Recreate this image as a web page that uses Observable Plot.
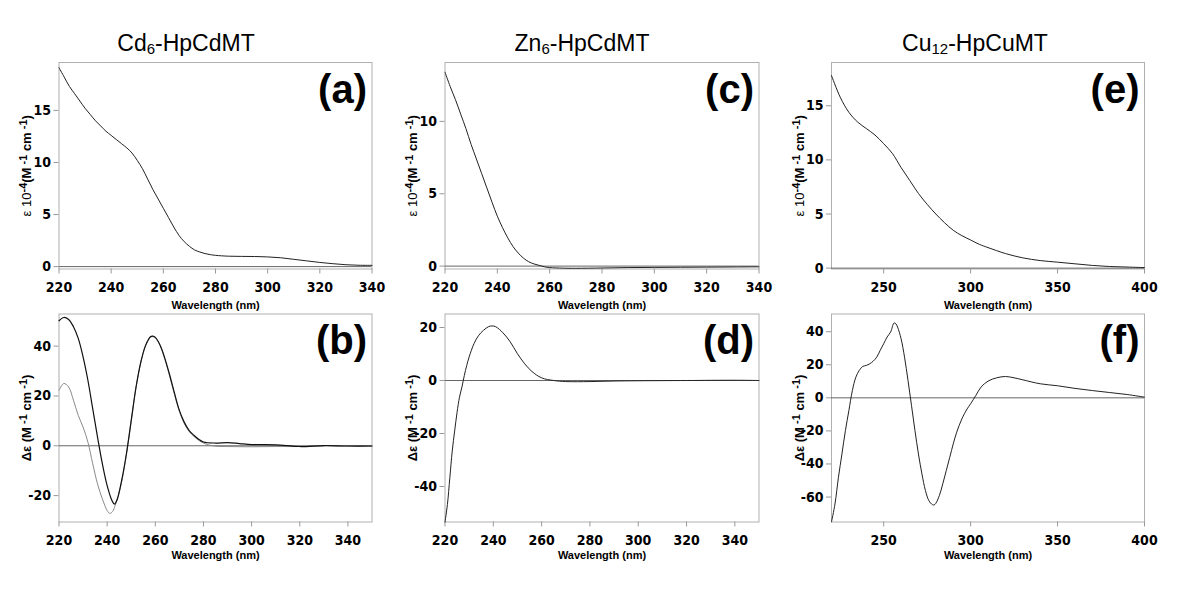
<!DOCTYPE html>
<html><head><meta charset="utf-8">
<script src="https://cdn.jsdelivr.net/npm/d3@7"></script>
<script src="https://cdn.jsdelivr.net/npm/@observablehq/plot@0.6"></script>
<style>
body{margin:0;background:#fff;}
#root{position:relative;width:1200px;height:589px;overflow:hidden;background:#fff;font-family:"Liberation Sans",Arial,Helvetica,sans-serif;}
.title{position:absolute;font-size:23px;line-height:23px;color:#000;white-space:nowrap;transform:translateX(-50%);}
.title .s{font-size:15px;position:relative;top:3px;}
.panel{position:absolute;}
</style></head><body><div id="root"></div>
<script>
// ---- data ----
const titles = ["Cd|6|-HpCdMT", "Zn|6|-HpCdMT", "Cu|12|-HpCuMT"];
const panelLetters = ["(a)", "(b)", "(c)", "(d)", "(e)", "(f)"];
const xLabel = "Wavelength (nm)";
// "^..._" marks a superscript run, "~..._" marks a regular-weight run
const yLabelAbs = "~ε 10_^-4_(M^ -1_ cm^ -1_)";
const yLabelCD = "Δε (M^ -1_ cm^ -1_)";

// (a) Cd6-HpCdMT absorption
const wlA = [220,222,224,226,228,230,232,234,236,238,240,242,244,246,248,250,252,254,256,258,260,262,264,266,268,270,272,274,276,278,280,285,290,295,300,305,310,315,320,325,330,335,340];
const epsA = [19.1,18.2,17.3,16.6,15.9,15.2,14.6,14.0,13.5,13.0,12.6,12.2,11.8,11.4,10.9,10.2,9.4,8.4,7.4,6.5,5.6,4.7,3.8,3.0,2.4,1.95,1.6,1.4,1.25,1.15,1.08,1.0,0.98,0.97,0.93,0.85,0.7,0.55,0.4,0.28,0.18,0.13,0.12];

// (b) Cd6-HpCdMT CD (two traces)
const wlB = [220,222,224,226,228,230,232,234,236,238,240,242,243,244,246,248,250,252,254,256,258,259,260,262,264,266,268,270,272,274,276,278,280,285,290,295,300,310,320,330,340,350];
const cdB1 = [50.2,51.5,50.7,47.8,43.1,35.7,26.3,14.9,3.5,-7.2,-16,-22,-23.4,-22,-14,-3.2,10.2,23.6,33.7,40.4,43.8,44,43.5,40.4,35,28.3,21,14.2,9.5,6.2,4.2,2.6,1.5,1.1,1.3,0.9,0.5,0.4,-0.3,0.1,-0.1,-0.1];
const wlB2 = [220,222,224,226,228,230,232,234,236,238,240,241,242,244,246,248,250,252,254,256,258,259,260,262,264,266,268,270,272,274,276,278,280,282,285,290,300,310,320,330,340,350];
const cdB2 = [22.3,25,23.6,18.3,12.2,7.5,1.5,-7.2,-15.3,-21.3,-26,-27.1,-26.7,-22,-14.6,-3.5,10,23.4,33.5,40.2,43.6,43.8,43.3,40.2,34.6,27.8,20.5,13.8,9,5.8,3.8,2.2,1.1,0.4,-0.2,-0.3,-0.4,-0.3,-0.3,0,-0.1,-0.1];

// (c) Zn6-HpCdMT absorption
const wlC = [220,222,224,226,228,230,232,234,236,238,240,242,244,246,248,250,252,254,256,258,260,265,270,280,290,300,310,320,330,340];
const epsC = [13.4,12.4,11.5,10.5,9.5,8.4,7.4,6.4,5.4,4.4,3.45,2.65,1.95,1.35,0.9,0.55,0.3,0.15,0.05,-0.05,-0.1,-0.14,-0.15,-0.13,-0.1,-0.09,-0.08,-0.07,-0.06,-0.05];

// (d) Zn6-HpCdMT CD
const wlD = [220,221,222,223,224,225,226,227,228,229,230,232,234,236,238,239.5,241,244,247,250,253,256,260,265,270,280,290,300,320,340,350];
const cdD = [-53.4,-46.8,-36.7,-26.6,-19,-12,-6.3,-2.5,1.9,5.7,8.9,13.9,17.1,19,20.3,20.6,20.3,18,14.6,10.1,6.3,3.4,1.0,0,-0.4,-0.4,-0.2,-0.1,0,0.1,0];

// (e) Cu12-HpCuMT absorption
const wlE = [220,225,230,235,240,245,250,255,260,265,270,275,280,285,290,295,300,305,310,320,330,340,350,360,370,380,390,400];
const epsE = [17.8,15.8,14.4,13.5,12.9,12.3,11.5,10.6,9.3,8.1,6.9,5.9,5.0,4.2,3.5,3.0,2.6,2.2,1.9,1.35,0.95,0.7,0.55,0.4,0.25,0.15,0.1,0.05];

// (f) Cu12-HpCuMT CD
const wlF = [220,222,224,226,228,230,232,234,236,238,240,242,244,246,248,250,252,254,256,257,258,260,262,264,266,268,270,272,274,276,278,279,280,282,284,286,288,290,292,295,298,300,303,306,310,315,320,325,330,340,350,360,370,380,390,400];
const cdF = [-75,-64.2,-48,-34,-19.8,-7.7,4.4,12.5,16.6,19,19.6,20.6,22.2,24.6,28.7,32.7,36.8,39.8,45.3,44.8,42.8,35.8,24.6,10.5,-4.6,-19.8,-34,-46,-56,-62.2,-64.6,-64.8,-63.8,-59.2,-52,-44,-36,-27.9,-20.8,-12.7,-6.7,-3.6,1.4,6.5,10.1,12.1,12.9,12.1,10.9,8.5,7.3,5.7,4.4,3.2,2.0,0.4];

// axis ticks
const xTicks220 = [220,240,260,280,300,320,340];
const xTicks250 = [250,300,350,400];
const yTicksA = [0,5,10,15];
const yTicksC = [0,5,10];
const yTicksE = [0,5,10,15];
const yTicksB = [-20,0,20,40];
const yTicksD = [-40,-20,0,20];
const yTicksF = [-60,-40,-20,0,20,40];

// ---- layout ----
const root = document.getElementById("root");
const tickFont = '"Liberation Sans Narrow","Arial Narrow","DejaVu Sans Condensed",sans-serif';
const labFont = '"Liberation Sans",Arial,Helvetica,sans-serif';

const titleCenters = [186, 582, 975];
titles.forEach((t, i) => {
  const [a, b, c] = t.split("|");
  const d = document.createElement("div");
  d.className = "title";
  d.style.left = titleCenters[i] + "px";
  d.style.top = "32px";
  d.innerHTML = `${a}<span class="s">${b}</span>${c}`;
  root.appendChild(d);
});

const cols = [
  {left: 0, width: 390, ml: 58.5, mr: 18.5},
  {left: 390, width: 390, ml: 54.5, mr: 21.5},
  {left: 780, width: 420, ml: 51, mr: 56}
];
const rows = [
  {top: 40, height: 275, mt: 22, mb: 46.5, xlabDy: 39.5},
  {top: 300, height: 280, mt: 13.5, mb: 58.5, xlabDy: 36.5}
];

function makeSeries(wl, vals, stroke, width) {
  return wl.map((w, i) => ({w, v: vals[i], stroke, width}));
}
const plain = s => s.replace(/[\^_~]/g, "");

const panels = [
  {col: 0, row: 0, letter: panelLetters[0], xd: [220, 340], yd: [-0.23, 19.6], xt: xTicks220, yt: yTicksA, yl: yLabelAbs,
   series: [makeSeries(wlA, epsA, "#222", 1)]},
  {col: 0, row: 1, letter: panelLetters[1], xd: [220, 350], yd: [-30.6, 52.9], xt: xTicks220, yt: yTicksB, yl: yLabelCD,
   series: [makeSeries(wlB2, cdB2, "#8a8a8a", 1), makeSeries(wlB, cdB1, "#111", 1.2)]},
  {col: 1, row: 0, letter: panelLetters[2], xd: [220, 340], yd: [-0.2, 14.07], xt: xTicks220, yt: yTicksC, yl: yLabelAbs,
   series: [makeSeries(wlC, epsC, "#222", 1)]},
  {col: 1, row: 1, letter: panelLetters[3], xd: [220, 350], yd: [-53.4, 25.1], xt: xTicks220, yt: yTicksD, yl: yLabelCD,
   series: [makeSeries(wlD, cdD, "#222", 1)]},
  {col: 2, row: 0, letter: panelLetters[4], xd: [220, 400], yd: [-0.08, 19.0], xt: xTicks250, yt: yTicksE, yl: yLabelAbs,
   series: [makeSeries(wlE, epsE, "#222", 1)]},
  {col: 2, row: 1, letter: panelLetters[5], xd: [220, 400], yd: [-75.1, 50.7], xt: xTicks250, yt: yTicksF, yl: yLabelCD,
   series: [makeSeries(wlF, cdF, "#222", 1)]}
];

// rebuild a y label's text as tspans: "^..._" raised, "~..._" regular weight
function styleLabel(svg, marked) {
  const target = plain(marked);
  svg.querySelectorAll("text").forEach(t => {
    if (t.textContent !== target) return;
    while (t.firstChild) t.removeChild(t.firstChild);
    const parts = marked.split(/([\^~][^_]*_)/).filter(s => s.length);
    for (const part of parts) {
      const ts = document.createElementNS("http://www.w3.org/2000/svg", "tspan");
      if (part[0] === "^") {
        ts.textContent = part.slice(1, -1);
        ts.setAttribute("font-size", "11");
        ts.setAttribute("baseline-shift", "4");
      } else if (part[0] === "~") {
        ts.textContent = part.slice(1, -1);
        ts.setAttribute("font-weight", "normal");
      } else {
        ts.textContent = part;
      }
      t.appendChild(ts);
    }
  });
}

for (const p of panels) {
  const c = cols[p.col], r = rows[p.row];
  const lines = p.series.map(s => Plot.line(s, {x: "w", y: "v", stroke: s[0].stroke, strokeWidth: s[0].width, curve: "catmull-rom"}));
  const chart = Plot.plot({
    width: c.width, height: r.height,
    marginLeft: c.ml, marginRight: c.mr, marginTop: r.mt, marginBottom: r.mb,
    style: {background: "transparent", overflow: "visible"},
    x: {domain: p.xd},
    y: {domain: p.yd},
    marks: [
      Plot.frame({stroke: "#b0b0b0"}),
      Plot.ruleY([0], {stroke: "#666", strokeWidth: 1}),
      Plot.axisX({ticks: p.xt, tickFormat: d => String(d), tickSize: 5, tickPadding: 8, stroke: "#999", fill: "#000",
        fontSize: 14, fontWeight: "bold", fontFamily: tickFont, label: null}),
      Plot.axisY({ticks: p.yt, tickFormat: d => String(d), tickSize: 5, tickPadding: 3, stroke: "#999", fill: "#000",
        fontSize: 14, fontWeight: "bold", fontFamily: tickFont, label: null}),
      ...lines,
      Plot.text([p.letter], {text: d => d, frameAnchor: "top-right", textAnchor: "end", lineAnchor: "top",
        dx: -5, dy: 12, fontSize: 40, fontWeight: "bold", fontFamily: labFont, fill: "#000"}),
      Plot.text([xLabel], {text: d => d, frameAnchor: "bottom", dy: r.xlabDy, fontSize: 11, fontWeight: "bold",
        fontFamily: labFont, fill: "#000"}),
      Plot.text([plain(p.yl)], {text: d => d, frameAnchor: "left", textAnchor: "middle", rotate: -90, dx: -32,
        fontSize: 13, fontWeight: "bold", fontFamily: labFont, fill: "#000"})
    ]
  });
  styleLabel(chart, p.yl);
  chart.classList.add("panel");
  chart.style.left = c.left + "px";
  chart.style.top = r.top + "px";
  chart.style.position = "absolute";
  root.appendChild(chart);
}
</script>
</body></html>
